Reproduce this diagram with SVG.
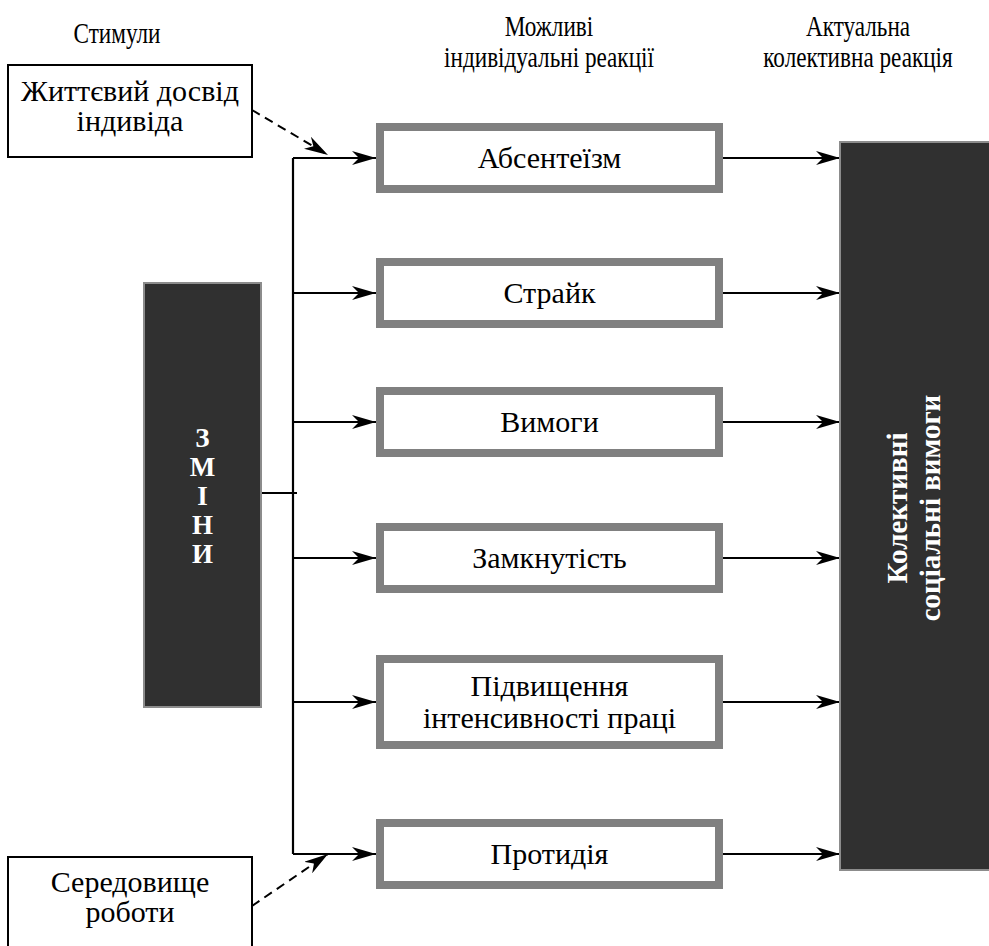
<svg xmlns="http://www.w3.org/2000/svg" width="989" height="946" viewBox="0 0 989 946">
  <style>
    text { font-family: 'Liberation Serif', 'Times New Roman', serif; fill: #000; }
    .hdr { font-size: 29px; text-anchor: middle; }
    .lbl { font-size: 30px; text-anchor: middle; }
    .inv { font-size: 27px; font-weight: bold; fill: #fff; text-anchor: middle; }
    .react { fill: #fff; stroke: #808080; stroke-width: 8; }
    .stim { fill: #fff; stroke: #000; stroke-width: 2; }
    .dark { fill: #303030; stroke: #8c8c8c; stroke-width: 2; }
    .wire { fill: none; stroke: #000; stroke-width: 2.2; }
    .dash { fill: none; stroke: #000; stroke-width: 2; stroke-dasharray: 9 6; }
  </style>
  <defs>
    <marker id="arr" viewBox="0 0 24 14" refX="24" refY="7" markerWidth="24" markerHeight="14" markerUnits="userSpaceOnUse" orient="auto">
      <path d="M24,7 L0,0 L7,7 L0,14 Z" fill="#000"/>
    </marker>
  </defs>

  <!-- column headers (condensed) -->
  <g id="headers">
    <text class="hdr" transform="translate(117,43) scale(0.8,1)">Стимули</text>
    <text class="hdr" transform="translate(549,36) scale(0.8,1)">Можливі</text>
    <text class="hdr" transform="translate(549,67) scale(0.8,1)">індивідуальні реакції</text>
    <text class="hdr" transform="translate(858,36) scale(0.8,1)">Актуальна</text>
    <text class="hdr" transform="translate(858,67) scale(0.8,1)">колективна реакція</text>
  </g>

  <!-- connectors -->
  <g id="connectors">
    <path class="dash" d="M252,110 L328,155" marker-end="url(#arr)"/>
    <path class="dash" d="M252,906 L328,854" marker-end="url(#arr)"/>
    <path class="wire" d="M293,158 V854"/>
    <path class="wire" d="M261,493 H297"/>
    <path class="wire" d="M293,158 H376" marker-end="url(#arr)"/>
    <path class="wire" d="M293,293 H376" marker-end="url(#arr)"/>
    <path class="wire" d="M293,422 H376" marker-end="url(#arr)"/>
    <path class="wire" d="M293,558 H376" marker-end="url(#arr)"/>
    <path class="wire" d="M293,702 H376" marker-end="url(#arr)"/>
    <path class="wire" d="M293,854 H376" marker-end="url(#arr)"/>
    <path class="wire" d="M723,158 H840" marker-end="url(#arr)"/>
    <path class="wire" d="M723,293 H840" marker-end="url(#arr)"/>
    <path class="wire" d="M723,422 H840" marker-end="url(#arr)"/>
    <path class="wire" d="M723,558 H840" marker-end="url(#arr)"/>
    <path class="wire" d="M723,702 H840" marker-end="url(#arr)"/>
    <path class="wire" d="M723,854 H840" marker-end="url(#arr)"/>
  </g>

  <!-- stimuli -->
  <g id="life-experience">
    <rect class="stim" x="8" y="65" width="244" height="92"/>
    <text class="lbl" x="130" y="101">Життєвий досвід</text>
    <text class="lbl" x="130" y="131">індивіда</text>
  </g>
  <g id="work-environment">
    <rect class="stim" x="8" y="857" width="244" height="100"/>
    <text class="lbl" x="130" y="892">Середовище</text>
    <text class="lbl" x="130" y="922">роботи</text>
  </g>
  <g id="changes">
    <rect class="dark" x="144" y="283" width="117" height="424"/>
    <text class="inv" x="202.5" y="447">З</text>
    <text class="inv" x="202.5" y="476">М</text>
    <text class="inv" x="202.5" y="505">І</text>
    <text class="inv" x="202.5" y="534">Н</text>
    <text class="inv" x="202.5" y="563">И</text>
  </g>

  <!-- individual reactions -->
  <g id="absenteeism">
    <rect class="react" x="380" y="127" width="339" height="62"/>
    <text class="lbl" x="549.5" y="168">Абсентеїзм</text>
  </g>
  <g id="strike">
    <rect class="react" x="380" y="262" width="339" height="62"/>
    <text class="lbl" x="549.5" y="303">Страйк</text>
  </g>
  <g id="demands">
    <rect class="react" x="380" y="391" width="339" height="62"/>
    <text class="lbl" x="549.5" y="432">Вимоги</text>
  </g>
  <g id="closedness">
    <rect class="react" x="380" y="527" width="339" height="62"/>
    <text class="lbl" x="549.5" y="568">Замкнутість</text>
  </g>
  <g id="intensity">
    <rect class="react" x="380" y="659" width="339" height="86"/>
    <text class="lbl" x="549.5" y="696">Підвищення</text>
    <text class="lbl" x="549.5" y="728">інтенсивності праці</text>
  </g>
  <g id="resistance">
    <rect class="react" x="380" y="823" width="339" height="62"/>
    <text class="lbl" x="549.5" y="864">Протидія</text>
  </g>

  <!-- collective reaction -->
  <g id="collective-demands">
    <rect class="dark" x="840" y="142" width="155" height="728"/>
    <text class="inv" style="font-size:29px" transform="translate(907,508) rotate(-90)">Колективні</text>
    <text class="inv" style="font-size:29px" transform="translate(940,508) rotate(-90)">соціальні вимоги</text>
  </g>
</svg>
